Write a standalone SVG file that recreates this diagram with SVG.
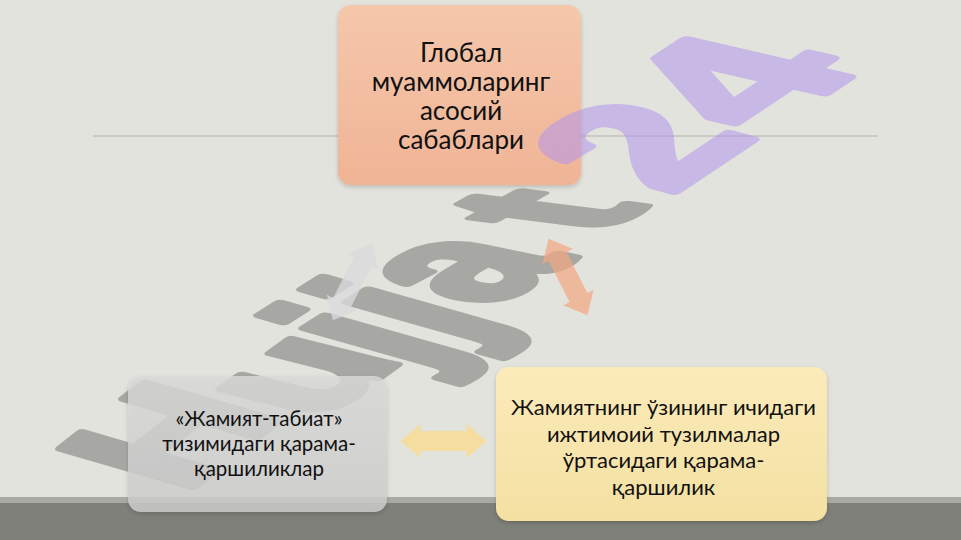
<svg xmlns="http://www.w3.org/2000/svg" width="961" height="540" viewBox="0 0 961 540">
  <defs>
    <linearGradient id="gTop" x1="0" y1="0" x2="0" y2="1">
      <stop offset="0" stop-color="#f5c7ab"/>
      <stop offset="1" stop-color="#f0b496"/>
    </linearGradient>
    <linearGradient id="gLeft" x1="0" y1="0" x2="0" y2="1">
      <stop offset="0" stop-color="#dadada"/>
      <stop offset="1" stop-color="#cdcdcd"/>
    </linearGradient>
    <linearGradient id="gRight" x1="0" y1="0" x2="0" y2="1">
      <stop offset="0" stop-color="#fbebb9"/>
      <stop offset="1" stop-color="#f4e0a2"/>
    </linearGradient>
    <filter id="sh" x="-10%" y="-10%" width="120%" height="125%">
      <feDropShadow dx="0" dy="2" stdDeviation="2" flood-color="#000" flood-opacity="0.18"/>
    </filter>
    <polygon id="dblArrow" points="-43,0 -23,-17 -23,-10 23,-10 23,-17 43,0 23,17 23,10 -23,10 -23,17"/>
  </defs>
  <style>
    .wm { font-family: "Liberation Sans", Arial, sans-serif; font-weight: bold; font-size: 100px; stroke-width: 5; stroke-linejoin: round; }
    .wmg { fill: #a7a7a3; stroke: #a7a7a3; }
    .wmp { fill: #b295ed; stroke: #b295ed; opacity: 0.55; }
    .lbl { font-family: Lato, "Noto Sans", sans-serif; fill: #111111; text-anchor: middle; }
  </style>

  <!-- background -->
  <rect x="0" y="0" width="961" height="540" fill="#e3e3dd"/>
  <line x1="93" y1="136" x2="878" y2="136" stroke="#b2b2aa" stroke-width="1"/>
  <rect x="0" y="497" width="961" height="43" fill="#80807a"/>
  <rect x="0" y="497" width="961" height="6" fill="#a9aaa3"/>

  <!-- watermark (gray part) -->
  <g id="watermark-gray" class="wm wmg">
    <text transform="matrix(1.42,-1.12,1.93,0.56,184.3,494.4)">H</text>
    <text transform="matrix(1.45,-1.05,2.0,0.5,317.8,422)">u</text>
    <text transform="matrix(1.5,-0.95,2.3,0.65,416,369.5)">j</text>
    <text transform="matrix(1.5,-0.95,2.3,0.65,459,343.5)">j</text>
    <text transform="matrix(1.55,-0.9,2.4,0.5,490,308)">a</text>
    <text transform="matrix(1.6,-0.9,2.4,0.3,596.5,235)">t</text>
  </g>

  <!-- nodes -->
  <g id="node-top">
    <rect x="338" y="5" width="243" height="180" rx="13" fill="url(#gTop)" filter="url(#sh)"/>
  </g>

  <g id="watermark-purple" class="wm wmp">
    <text transform="matrix(1.62,-1.08,2.2,0.6,669.4,195.4)">2</text>
    <text transform="matrix(1.8,-1.2,2.38,0.55,766.6,132.5)">4</text>
  </g>

  <g id="node-left">
    <rect x="128" y="376" width="259" height="136" rx="13" fill="url(#gLeft)" fill-opacity="0.82" filter="url(#sh)"/>
  </g>
  <g id="node-right">
    <rect x="496" y="367" width="331" height="154" rx="13" fill="url(#gRight)" filter="url(#sh)"/>
  </g>

  <!-- connectors -->
  <g id="connectors">
    <use href="#dblArrow" transform="translate(352.5,282) rotate(-63)" fill="#dadadc" fill-opacity="0.8"/>
    <use href="#dblArrow" transform="translate(568,277) rotate(63)" fill="#f3a884" fill-opacity="0.72"/>
    <use href="#dblArrow" transform="translate(443.5,441)" fill="#f6dc98" fill-opacity="0.9"/>
  </g>

  <!-- labels -->
  <g id="labels">
    <text class="lbl" font-size="26" x="461" y="62">Глобал</text>
    <text class="lbl" font-size="26" x="461" y="91">муаммоларинг</text>
    <text class="lbl" font-size="26" x="461" y="120">асосий</text>
    <text class="lbl" font-size="26" x="461" y="149">сабаблари</text>

    <text class="lbl" font-size="20.5" x="259" y="426">«Жамият-табиат»</text>
    <text class="lbl" font-size="20.5" x="259" y="451">тизимидаги қарама-</text>
    <text class="lbl" font-size="20.5" x="259" y="476">қаршиликлар</text>

    <text class="lbl" font-size="22" x="663.5" y="415">Жамиятнинг ўзининг ичидаги</text>
    <text class="lbl" font-size="22" x="663.5" y="441.5">ижтимоий тузилмалар</text>
    <text class="lbl" font-size="22" x="663.5" y="468">ўртасидаги қарама-</text>
    <text class="lbl" font-size="22" x="663.5" y="494.5">қаршилик</text>
  </g>
</svg>
